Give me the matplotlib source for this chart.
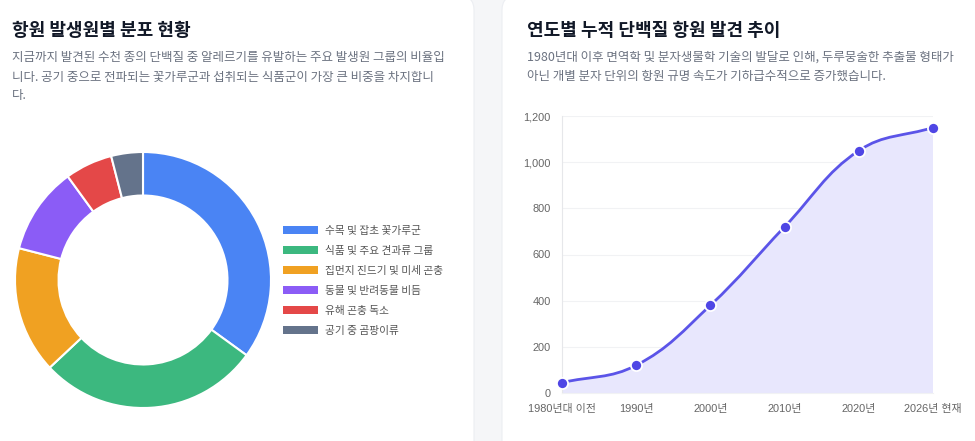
import matplotlib.pyplot as plt
import numpy as np
from matplotlib.patches import FancyBboxPatch, PathPatch, Patch
from matplotlib.path import Path

plt.rcParams['font.family'] = ['Noto Sans CJK KR', 'DejaVu Sans']

# donut data
sources = ['수목 및 잡초 꽃가루군', '식품 및 주요 견과류 그룹', '집먼지 진드기 및 미세 곤충',
           '동물 및 반려동물 비듬', '유해 곤충 독소', '공기 중 곰팡이류']
shares = [35, 28, 16, 11, 6, 4]
source_colors = ['#4a84f4', '#3cb87f', '#f0a122', '#8b5cf6', '#e44848', '#64738b']

# line data
years = ['1980년대 이전', '1990년', '2000년', '2010년', '2020년', '2026년 현재']
counts = [45, 120, 380, 720, 1050, 1150]

W, H = 975, 441
fig = plt.figure(figsize=(W / 100, H / 100), dpi=100)
fig.patch.set_facecolor('#f5f6f8')

# white cards (pixel coords -> inches)
for x0, x1 in [(-20, 474), (502, 995)]:
    card = FancyBboxPatch((x0 / 100, -0.2), (x1 - x0) / 100, (H + 4) / 100 + 0.2,
                          boxstyle='round,pad=0,rounding_size=0.14',
                          transform=fig.dpi_scale_trans, facecolor='white',
                          edgecolor='#eceef2', linewidth=0.8, zorder=-10)
    fig.patches.append(card)

def px(x, y):
    return x / W, 1 - y / H

title_kw = dict(fontsize=13, fontweight='bold', color='#111827', va='center', ha='left')
sub_kw = dict(fontsize=9, color='#6b7280', va='center', ha='left')

fig.text(*px(12, 30), '항원 발생원별 분포 현황', **title_kw)
left_lines = ['지금까지 발견된 수천 종의 단백질 중 알레르기를 유발하는 주요 발생원 그룹의 비율입',
              '니다. 공기 중으로 전파되는 꽃가루군과 섭취되는 식품군이 가장 큰 비중을 차지합니',
              '다.']
for i, line in enumerate(left_lines):
    fig.text(*px(12, 58 + 19 * i), line, **sub_kw)

fig.text(*px(527, 30), '연도별 누적 단백질 항원 발견 추이', **title_kw)
right_lines = ['1980년대 이후 면역학 및 분자생물학 기술의 발달로 인해, 두루뭉술한 추출물 형태가',
               '아닌 개별 분자 단위의 항원 규명 속도가 기하급수적으로 증가했습니다.']
for i, line in enumerate(right_lines):
    fig.text(*px(527, 57 + 19 * i), line, **sub_kw)

# donut
cx, cy, r = 143, 280, 128
ax1 = fig.add_axes([(cx - r) / W, (H - cy - r) / H, 2 * r / W, 2 * r / H])
ax1.pie(shares, colors=source_colors, startangle=90, counterclock=False, radius=1,
        wedgeprops=dict(width=0.34, edgecolor='white', linewidth=1.5))
ax1.set_xlim(-1, 1)
ax1.set_ylim(-1, 1)
ax1.set_aspect('auto')
ax1.axis('off')

handles = [Patch(facecolor=c, edgecolor='none') for c in source_colors]
fig.legend(handles, sources, loc='upper left', bbox_to_anchor=px(283, 226),
           frameon=False, fontsize=7.7, labelcolor='#555555', handlelength=3.3,
           handleheight=0.8, handletextpad=0.65, labelspacing=0.93,
           borderpad=0, borderaxespad=0)

# cumulative line
left, right, top, bottom = 562, 933, 116, 393
ax2 = fig.add_axes([left / W, (H - bottom) / H, (right - left) / W, (bottom - top) / H])
xs = np.arange(len(years))
ax2.set_xlim(xs[0], xs[-1])
ax2.set_ylim(0, 1200)

# chart.js style bezier (tension 0.4) computed in pixel space
tension = 0.4
pts = ax2.transData.transform(np.column_stack([xs, counts]))
verts = [pts[0]]
n = len(pts)
ctrl_prev, ctrl_next = [], []
for i in range(n):
    p0 = pts[max(i - 1, 0)]
    p1 = pts[i]
    p2 = pts[min(i + 1, n - 1)]
    d01 = np.hypot(*(p1 - p0))
    d12 = np.hypot(*(p2 - p1))
    tot = d01 + d12
    s01 = d01 / tot if tot else 0
    s12 = d12 / tot if tot else 0
    ctrl_prev.append(p1 - tension * s01 * (p2 - p0))
    ctrl_next.append(p1 + tension * s12 * (p2 - p0))
for i in range(n - 1):
    verts += [ctrl_next[i], ctrl_prev[i + 1], pts[i + 1]]
verts = ax2.transData.inverted().transform(np.array(verts))
codes = [Path.MOVETO] + [Path.CURVE4] * (len(verts) - 1)
curve = Path(verts, codes)

fill_verts = np.vstack([verts, [[xs[-1], 0], [xs[0], 0], verts[0]]])
fill_codes = codes + [Path.LINETO, Path.LINETO, Path.CLOSEPOLY]
ax2.add_patch(PathPatch(Path(fill_verts, fill_codes), facecolor='#e8e7fd',
                        edgecolor='none', zorder=1))
ax2.add_patch(PathPatch(curve, facecolor='none', edgecolor='#5b54e8',
                        linewidth=2, zorder=2))
ax2.plot(xs, counts, 'o', color='#4f46e5', markersize=8, markeredgecolor='white',
         markeredgewidth=1.3, zorder=3, clip_on=False)

ax2.set_xticks(xs)
ax2.set_xticklabels(years)
ax2.set_yticks(range(0, 1201, 200))
ax2.set_yticklabels([f'{v:,}' for v in range(0, 1201, 200)])
ax2.tick_params(length=0, labelsize=7.9, labelcolor='#666666')
ax2.tick_params(axis='x', pad=8)
ax2.tick_params(axis='y', pad=8)
for lab in ax2.get_xticklabels() + ax2.get_yticklabels():
    lab.set_family(['Liberation Sans', 'Noto Sans CJK KR'])
ax2.grid(axis='y', color='#f1f2f4', linewidth=0.8)
ax2.set_axisbelow(True)
for s in ['top', 'right']:
    ax2.spines[s].set_visible(False)
ax2.spines['left'].set_color('#e6e7ea')
ax2.spines['bottom'].set_color('#f1f2f4')
ax2.set_facecolor('none')

fig.savefig('out.png', dpi=100, facecolor=fig.get_facecolor())
